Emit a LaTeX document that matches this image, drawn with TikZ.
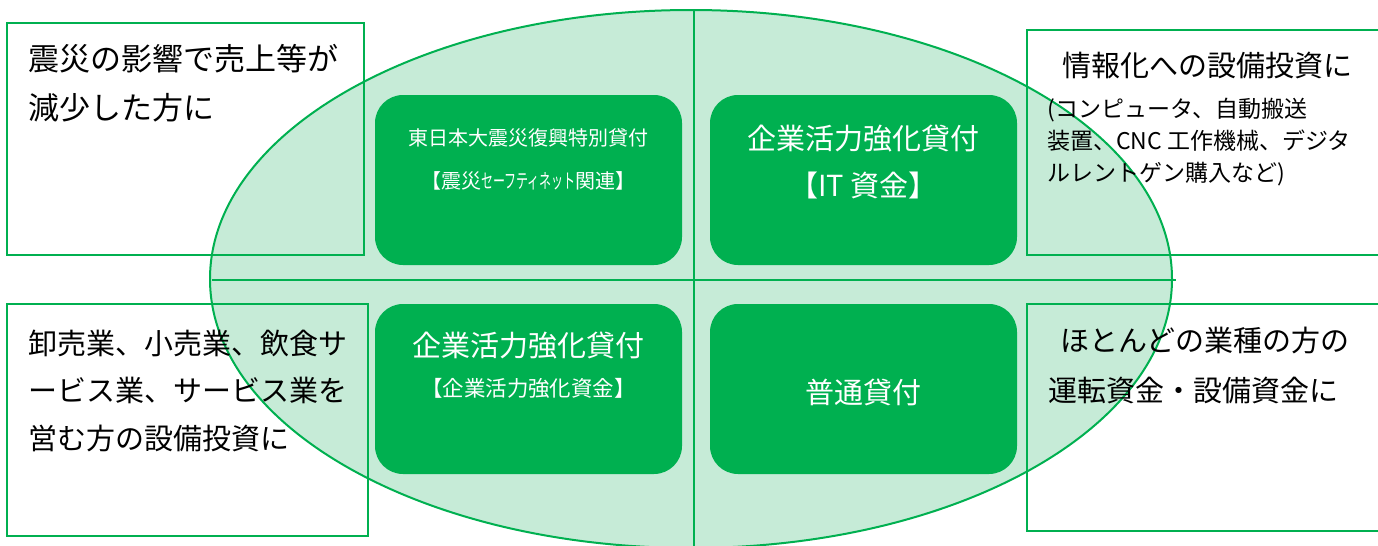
\documentclass[tikz,border=0pt]{standalone}
\usepackage{graphicx}
\usepackage{fontspec}
\newfontfamily\jp{Noto Sans CJK JP}
\definecolor{lgreen}{RGB}{0,176,80}
\definecolor{ellfill}{RGB}{198,235,215}
\begin{document}
\begin{tikzpicture}[x=0.75pt,y=-0.75pt,
  ellstyle/.style={draw=lgreen, fill=ellfill, line width=1.5pt},
  divider/.style={draw=lgreen, line width=1.5pt},
  gbox/.style={fill=lgreen, draw=none, rounded corners=21pt, minimum width=230.25pt, minimum height=127.5pt, inner sep=0pt},
  tbox/.style={draw=lgreen, line width=1.4pt, inner sep=0pt},
  wtext/.style={text=white, inner sep=0pt, align=center, anchor=base},
  btext/.style={text=black, inner sep=0pt, align=left, anchor=base west}]
\useasboundingbox (0,0) rectangle (1378,546);
\clip (0,0) rectangle (1378,546);
% ellipse
\draw[ellstyle] (691,279) ellipse [x radius=481, y radius=269];
% dividers
\coordinate (vtop) at (694,10);
\coordinate (vbot) at (694,548);
\coordinate (hl) at (212,280);
\coordinate (hr) at (1176,280);
\draw[divider] (vtop) -- (vbot);
\draw[divider] (hl) -- (hr);
% text boxes
\node[tbox, minimum width=267.75pt, minimum height=174pt] (b1) at (185.5,139) {};
\node[tbox, minimum width=270.75pt, minimum height=174pt] (b2) at (187.5,420) {};
\node[tbox, minimum width=272.25pt, minimum height=168.75pt] (b3) at (1208.5,142.5) {};
\node[tbox, minimum width=272.25pt, minimum height=170.25pt] (b4) at (1208.5,417.5) {};
% green boxes
\node[gbox] (g1) at (528.5,180) {};
\node[gbox] (g2) at (863.5,180) {};
\node[gbox] (g3) at (528.5,389) {};
\node[gbox] (g4) at (863.5,389) {};
% green box texts (base = baseline of last line)
\node[wtext, font=\jp\fontsize{15pt}{32.25pt}\selectfont] (g1t) at (528.5,188) {東日本大震災復興特別貸付\\【震災\scalebox{0.6}[1]{セーフティネット}関連】};
\node[wtext, font=\jp\fontsize{21.75pt}{35.25pt}\selectfont] (g2t) at (863.5,196) {企業活力強化貸付\\【IT 資金】};
\node[wtext, font=\jp\fontsize{21.75pt}{26pt}\selectfont] (g3t) at (528.5,356) {企業活力強化貸付};
\node[wtext, font=\jp\fontsize{16.1pt}{20pt}\selectfont] (g3s) at (528.5,396) {【企業活力強化資金】};
\node[wtext, font=\jp\fontsize{21.75pt}{26pt}\selectfont] (g4t) at (863.5,403) {普通貸付};
% black texts
\node[btext, font=\jp\fontsize{23.25pt}{36.75pt}\selectfont] (t1) at (28,119) {震災の影響で売上等が\\減少した方に};
\node[btext, font=\jp\fontsize{21.75pt}{35.6pt}\selectfont] (t2) at (28,449) {卸売業、小売業、飲食サ\\ービス業、サービス業を\\営む方の設備投資に};
\node[btext, font=\jp\fontsize{21.75pt}{26pt}\selectfont] (t3) at (1062,76) {情報化への設備投資に};
\node[btext, font=\jp\fontsize{17.25pt}{24pt}\selectfont] (t3n) at (1047,181) {(コンピュータ、自動搬送\\装置、CNC 工作機械、デジタ\\ルレントゲン購入など)};
\node[btext, font=\jp\fontsize{21.75pt}{37.5pt}\selectfont] (t4) at (1048,401) {\hspace*{9pt}ほとんどの業種の方の\\運転資金・設備資金に};
\end{tikzpicture}
\end{document}
